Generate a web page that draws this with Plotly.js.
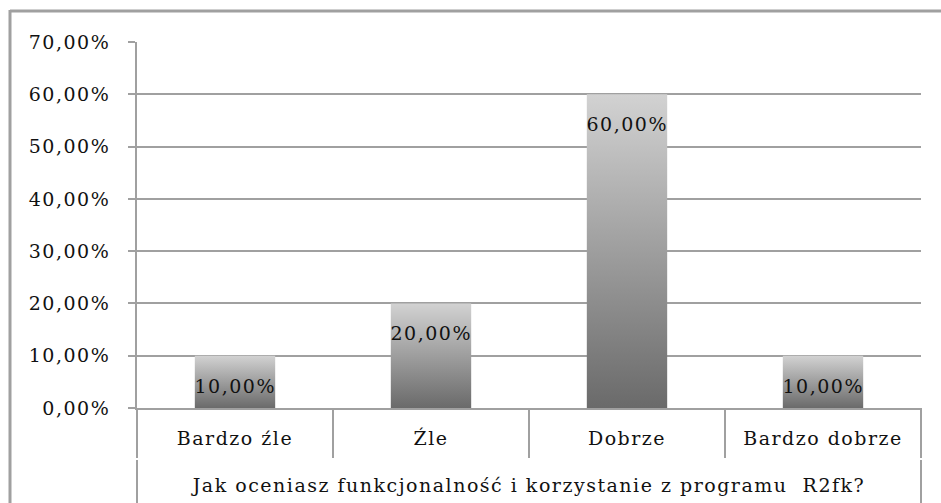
<!DOCTYPE html>
<html>
<head>
<meta charset="utf-8">
<script src="https://cdn.plot.ly/plotly-3.0.1.min.js"></script>
<style>
  html, body { margin: 0; padding: 0; background: #fff; }
  #chart { width: 941px; height: 503px; }
  #chart .main-svg text { letter-spacing: 1.5px; }
</style>
</head>
<body>
<div id="chart"></div>
<script>
// ---- data ----
const categories = ['Bardzo źle', 'Źle', 'Dobrze', 'Bardzo dobrze'];
const values = [0.10, 0.20, 0.60, 0.10];
const axisTitle = 'Jak oceniasz funkcjonalność i korzystanie z programu\u00a0 R2fk?';
const yTickValues = [0, 0.1, 0.2, 0.3, 0.4, 0.5, 0.6, 0.7];

// ---- styling / geometry ----
const W = 941, H = 503;
const M = { l: 137, r: 20, t: 42, b: 95 };
const plotW = W - M.l - M.r;
const plotH = H - M.t - M.b;
const pxX = px => (px - M.l) / plotW;
const pxY = py => (H - M.b - py) / plotH;
const lineGray = '#a0a0a0';
const font = 'DejaVu Serif';
const fsize = 19;
const txtColor = '#111111';

function pct(v) {
  return (v * 100).toFixed(2).replace('.', ',') + '%';
}

const data = [{
  type: 'bar',
  x: categories,
  y: values,
  marker: { color: '#9a9a9a', line: { width: 0 } },
  hoverinfo: 'none',
  showlegend: false
}];

const annotations = categories.map((c, i) => ({
  x: c, y: values[i], xref: 'x', yref: 'y',
  text: pct(values[i]),
  showarrow: false,
  yanchor: 'middle',
  yshift: -30,
  font: { family: font, size: fsize, color: txtColor }
}));

const n = categories.length;
const shapes = [];
// dividers between category labels
for (let i = 1; i < n; i++) {
  shapes.push({
    type: 'line', xref: 'paper', yref: 'paper',
    x0: i / n, x1: i / n, y0: 0, y1: pxY(458),
    line: { color: lineGray, width: 2 }
  });
}
// left and right outer divider lines through both label rows
[0, 1].forEach(xp => {
  shapes.push({
    type: 'line', xref: 'paper', yref: 'paper',
    x0: xp, x1: xp, y0: 0, y1: pxY(458),
    line: { color: lineGray, width: 2 }
  });
  shapes.push({
    type: 'line', xref: 'paper', yref: 'paper',
    x0: xp, x1: xp, y0: pxY(460), y1: pxY(510),
    line: { color: lineGray, width: 2 }
  });
});
// chart area border (top and left visible)
shapes.push({
  type: 'line', xref: 'paper', yref: 'paper',
  x0: pxX(10), x1: pxX(950), y0: pxY(11), y1: pxY(11),
  line: { color: lineGray, width: 3 }
});
shapes.push({
  type: 'line', xref: 'paper', yref: 'paper',
  x0: pxX(10), x1: pxX(10), y0: pxY(10), y1: pxY(515),
  line: { color: lineGray, width: 3 }
});

const layout = {
  width: W, height: H,
  margin: { l: M.l, r: M.r, t: M.t, b: M.b, pad: 0 },
  paper_bgcolor: '#ffffff',
  plot_bgcolor: '#ffffff',
  separators: ', ',
  bargap: 0.59,
  showlegend: false,
  xaxis: {
    type: 'category',
    range: [-0.5, n - 0.5],
    showline: true, linecolor: lineGray, linewidth: 2,
    showgrid: false, zeroline: false,
    ticks: '',
    ticklabelstandoff: 12,
    tickfont: { family: font, size: fsize, color: txtColor },
    title: {
      text: axisTitle,
      font: { family: font, size: fsize, color: txtColor },
      standoff: 31
    },
    automargin: false,
    fixedrange: true
  },
  yaxis: {
    range: [0, 0.7],
    tickvals: yTickValues,
    tickformat: '.2%',
    showgrid: true, gridcolor: lineGray, gridwidth: 2,
    showline: true, linecolor: lineGray, linewidth: 2,
    zeroline: false,
    ticks: 'outside', ticklen: 7, tickwidth: 2, tickcolor: lineGray,
    ticklabelstandoff: 14,
    tickfont: { family: font, size: fsize, color: txtColor },
    automargin: false,
    fixedrange: true
  },
  annotations: annotations,
  shapes: shapes
};

function applyGradient(gd) {
  const ns = 'http://www.w3.org/2000/svg';
  const svg = gd.querySelector('.main-svg');
  let defs = svg.querySelector('defs');
  if (!defs) { defs = document.createElementNS(ns, 'defs'); svg.insertBefore(defs, svg.firstChild); }
  if (!document.getElementById('barGrad')) {
    const lg = document.createElementNS(ns, 'linearGradient');
    lg.setAttribute('id', 'barGrad');
    lg.setAttribute('x1', '0'); lg.setAttribute('y1', '0');
    lg.setAttribute('x2', '0'); lg.setAttribute('y2', '1');
    [['0', '#d2d2d2'], ['1', '#6a6a6a']].forEach(([o, c]) => {
      const s = document.createElementNS(ns, 'stop');
      s.setAttribute('offset', o);
      s.setAttribute('stop-color', c);
      lg.appendChild(s);
    });
    defs.appendChild(lg);
  }
  gd.querySelectorAll('.bars .point path').forEach(p => { p.style.fill = 'url(#barGrad)'; });
}

Plotly.newPlot('chart', data, layout, { staticPlot: true, displayModeBar: false })
  .then(gd => { applyGradient(gd); gd.on('plotly_afterplot', () => applyGradient(gd)); });
</script>
</body>
</html>
